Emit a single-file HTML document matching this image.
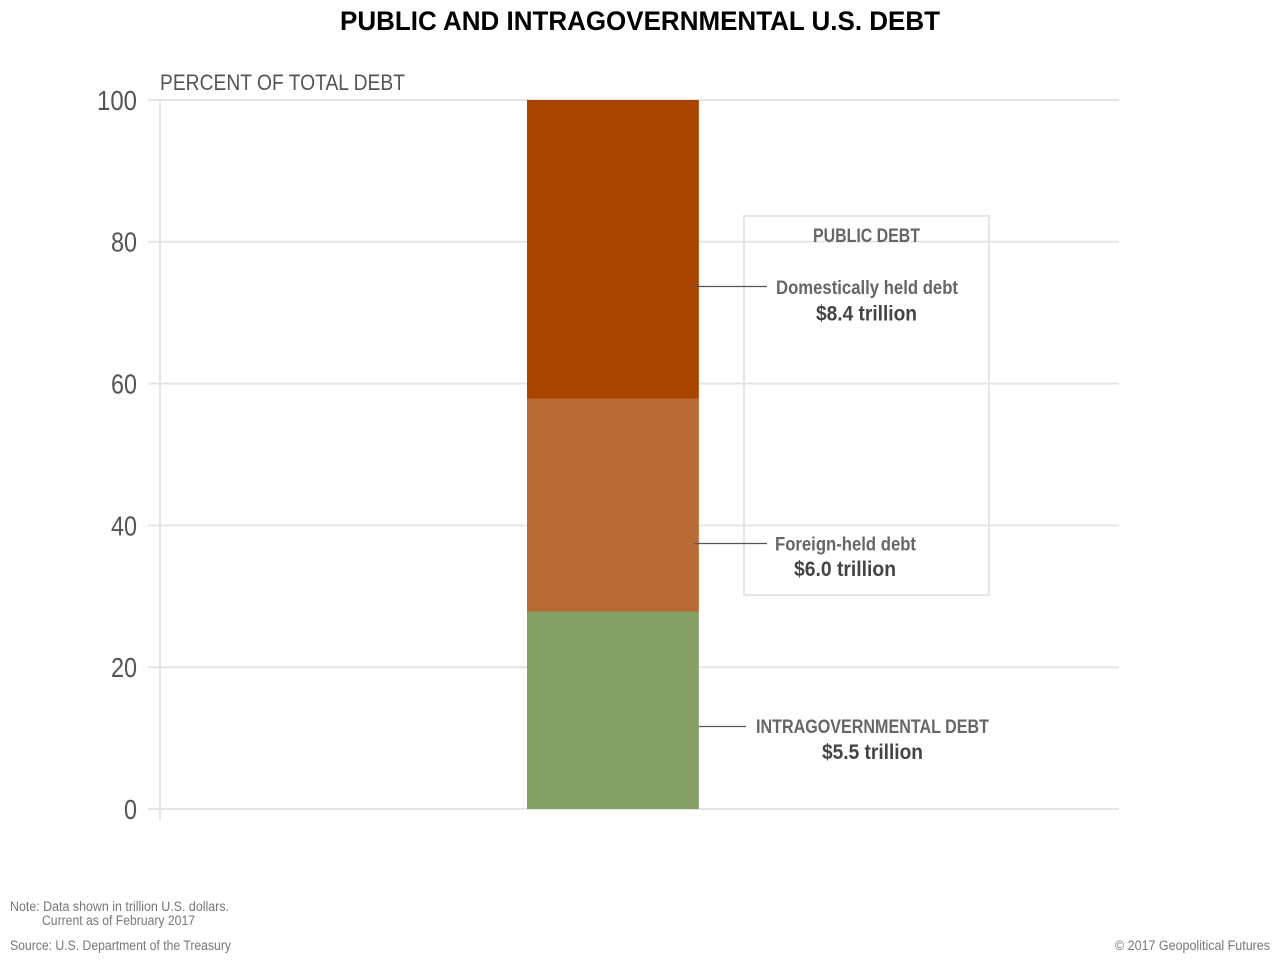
<!DOCTYPE html>
<html>
<head>
<meta charset="utf-8">
<style>
  html,body{margin:0;padding:0;background:#fff;}
  svg{display:block;}
  text{font-family:"Liberation Sans Narrow","Liberation Sans",sans-serif;}
</style>
</head>
<body>
<svg width="1280" height="960" viewBox="0 0 1280 960" xmlns="http://www.w3.org/2000/svg">
  <rect x="0" y="0" width="1280" height="960" fill="#fff"/>
  <!-- title -->
  <text x="340" y="30" font-size="27" font-weight="bold" fill="#000" textLength="600" lengthAdjust="spacingAndGlyphs">PUBLIC AND INTRAGOVERNMENTAL U.S. DEBT</text>

  <!-- axis label -->
  <text x="160" y="90" font-size="22" fill="#555" textLength="245" lengthAdjust="spacingAndGlyphs">PERCENT OF TOTAL DEBT</text>

  <!-- grid -->
  <g stroke="#e6e6e6" stroke-width="2">
    <line x1="148" y1="100" x2="1119" y2="100"/>
    <line x1="148" y1="241.8" x2="1119" y2="241.8"/>
    <line x1="148" y1="383.6" x2="1119" y2="383.6"/>
    <line x1="148" y1="525.4" x2="1119" y2="525.4"/>
    <line x1="148" y1="667.2" x2="1119" y2="667.2"/>
    <line x1="148" y1="809" x2="1119" y2="809"/>
    <line x1="160" y1="100" x2="160" y2="821"/>
  </g>

  <!-- y tick labels -->
  <g font-size="28" fill="#555" text-anchor="end">
    <text x="137" y="110" textLength="40" lengthAdjust="spacingAndGlyphs">100</text>
    <text x="137" y="251.5" textLength="26" lengthAdjust="spacingAndGlyphs">80</text>
    <text x="137" y="393.5" textLength="26" lengthAdjust="spacingAndGlyphs">60</text>
    <text x="137" y="535.5" textLength="26" lengthAdjust="spacingAndGlyphs">40</text>
    <text x="137" y="677" textLength="26" lengthAdjust="spacingAndGlyphs">20</text>
    <text x="137" y="819" textLength="13" lengthAdjust="spacingAndGlyphs">0</text>
  </g>

  <!-- bars -->
  <rect x="527" y="100" width="172" height="298.5" fill="#a84400"/>
  <rect x="527" y="398.5" width="172" height="213" fill="#b96a35"/>
  <rect x="527" y="611.5" width="172" height="197.5" fill="#84a064"/>
  <line x1="699" y1="100" x2="699" y2="809" stroke="#ffffff" stroke-opacity="0.3" stroke-width="1"/>

  <!-- public debt box -->
  <rect x="744" y="216" width="245" height="379" fill="none" stroke="#e6e6e6" stroke-width="2"/>

  <!-- leader lines -->
  <g stroke="#555" stroke-width="1.2">
    <line x1="694" y1="286.5" x2="767" y2="286.5"/>
    <line x1="694" y1="543.5" x2="767" y2="543.5"/>
    <line x1="699" y1="726.5" x2="746" y2="726.5"/>
  </g>

  <!-- labels -->
  <text x="813" y="242" font-size="19" font-weight="bold" fill="#666" textLength="107" lengthAdjust="spacingAndGlyphs">PUBLIC DEBT</text>
  <text x="776" y="294" font-size="19" font-weight="bold" fill="#666" textLength="182" lengthAdjust="spacingAndGlyphs">Domestically held debt</text>
  <text x="816" y="320.5" font-size="21" font-weight="bold" fill="#444" textLength="101" lengthAdjust="spacingAndGlyphs">$8.4 trillion</text>

  <text x="775" y="550.5" font-size="19" font-weight="bold" fill="#666" textLength="141" lengthAdjust="spacingAndGlyphs">Foreign-held debt</text>
  <text x="794" y="576" font-size="21" font-weight="bold" fill="#444" textLength="102" lengthAdjust="spacingAndGlyphs">$6.0 trillion</text>

  <text x="756" y="733" font-size="19" font-weight="bold" fill="#666" textLength="233" lengthAdjust="spacingAndGlyphs">INTRAGOVERNMENTAL DEBT</text>
  <text x="822" y="759" font-size="21" font-weight="bold" fill="#444" textLength="101" lengthAdjust="spacingAndGlyphs">$5.5 trillion</text>

  <!-- footer -->
  <g font-size="13.5" fill="#777">
    <text x="10" y="911" textLength="219" lengthAdjust="spacingAndGlyphs">Note: Data shown in trillion U.S. dollars.</text>
    <text x="42" y="925" textLength="153" lengthAdjust="spacingAndGlyphs">Current as of February 2017</text>
    <text x="10" y="950" textLength="221" lengthAdjust="spacingAndGlyphs">Source: U.S. Department of the Treasury</text>
    <text x="1270" y="950" text-anchor="end" textLength="155" lengthAdjust="spacingAndGlyphs">© 2017 Geopolitical Futures</text>
  </g>
</svg>
</body>
</html>
